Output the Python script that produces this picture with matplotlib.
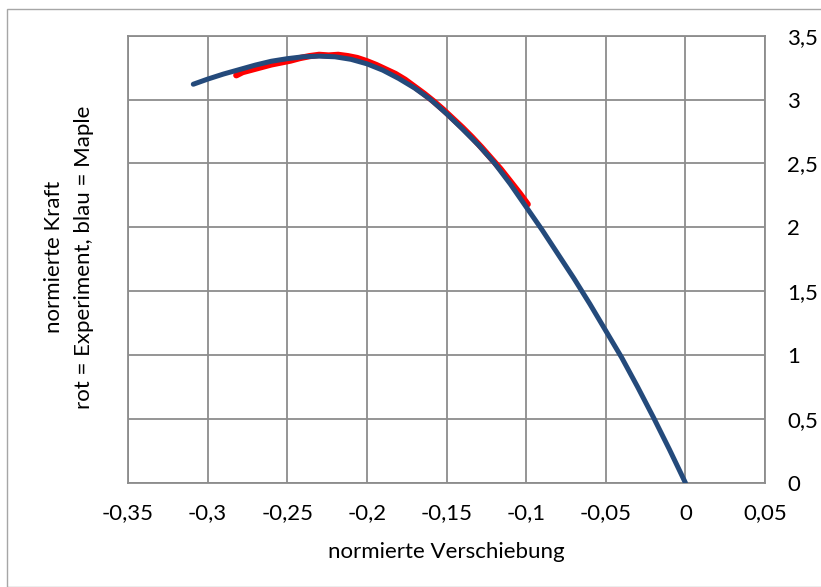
import matplotlib
matplotlib.use("Agg")
import matplotlib.pyplot as plt
from matplotlib.patches import Rectangle

# Data
maple_x = [-0.309, -0.30, -0.29, -0.28, -0.27, -0.26, -0.25, -0.24, -0.23, -0.22,
           -0.21, -0.20, -0.19, -0.18, -0.17, -0.16, -0.15, -0.14, -0.13, -0.12,
           -0.11, -0.10, -0.09, -0.08, -0.07, -0.06, -0.05, -0.04, -0.03, -0.02, -0.01, 0.0]
maple_y = [3.12, 3.16, 3.20, 3.235, 3.27, 3.30, 3.32, 3.335, 3.34, 3.335,
           3.315, 3.28, 3.23, 3.165, 3.09, 3.00, 2.89, 2.77, 2.645, 2.505,
           2.34, 2.16, 1.98, 1.79, 1.60, 1.40, 1.19, 0.98, 0.75, 0.51, 0.26, 0.0]

exp_x = [-0.282, -0.278, -0.272, -0.266, -0.26, -0.254, -0.248, -0.242, -0.236, -0.23,
         -0.224, -0.218, -0.212, -0.206, -0.2, -0.194, -0.188, -0.182, -0.176, -0.17,
         -0.164, -0.158, -0.152, -0.146, -0.14, -0.134, -0.128, -0.122, -0.116, -0.11,
         -0.104, -0.099]
exp_y = [3.19, 3.215, 3.235, 3.255, 3.275, 3.29, 3.305, 3.325, 3.34, 3.35,
         3.345, 3.35, 3.34, 3.325, 3.30, 3.27, 3.235, 3.20, 3.155, 3.10,
         3.045, 2.985, 2.92, 2.85, 2.78, 2.705, 2.625, 2.54, 2.455, 2.36,
         2.265, 2.18]

x_ticks = [-0.35, -0.30, -0.25, -0.20, -0.15, -0.10, -0.05, 0.0, 0.05]
x_ticklabels = ["-0,35", "-0,3", "-0,25", "-0,2", "-0,15", "-0,1", "-0,05", "0", "0,05"]
y_ticks = [0, 0.5, 1.0, 1.5, 2.0, 2.5, 3.0, 3.5]
y_ticklabels = ["0", "0,5", "1", "1,5", "2", "2,5", "3", "3,5"]

plt.rcParams['font.family'] = ['Lato', 'DejaVu Sans']
FS = 16

W, H = 821, 587
fig = plt.figure(figsize=(W / 100, H / 100), dpi=100)
fig.patch.set_facecolor("white")

# outer chart frame
fig.patches.append(Rectangle((7 / W, 0), 1, 1 - 9 / H, transform=fig.transFigure,
                             fill=False, edgecolor="#A6A6A6", linewidth=1.0))

left, right, top, bottom = 128, 765, 35.7, 482.7
ax = fig.add_axes([left / W, 1 - bottom / H, (right - left) / W, (bottom - top) / H])

grid_c = "#8C8C8C"
ax.plot(exp_x, exp_y, color="#FF0000", linewidth=4.5, solid_capstyle="round", zorder=3)
ax.plot(maple_x, maple_y, color="#244A7B", linewidth=3.6, solid_capstyle="round", zorder=4)

ax.set_xlim(-0.35, 0.05)
ax.set_ylim(0, 3.5)
ax.set_xticks(x_ticks)
ax.set_xticklabels(x_ticklabels, fontsize=FS)
ax.set_yticks(y_ticks)
ax.set_yticklabels(y_ticklabels, fontsize=FS)
ax.yaxis.tick_right()
ax.tick_params(axis="both", length=0)
ax.tick_params(axis="x", pad=15)
ax.tick_params(axis="y", pad=16)
for lab in ax.get_yticklabels():
    lab.set_horizontalalignment("left")

ax.grid(True, color=grid_c, linewidth=1.3)
ax.set_axisbelow(True)
for s in ax.spines.values():
    s.set_color(grid_c)
    s.set_linewidth(1.3)

fig.text(446 / W, 1 - 552 / H, "normierte Verschiebung", ha="center", va="center", fontsize=FS)
fig.text(54 / W, 1 - 257 / H, "normierte Kraft", ha="center", va="center",
         rotation=90, fontsize=FS)
fig.text(84 / W, 1 - 257 / H, "rot = Experiment, blau = Maple", ha="center", va="center",
         rotation=90, fontsize=FS)

fig.savefig("out.png", dpi=100)
